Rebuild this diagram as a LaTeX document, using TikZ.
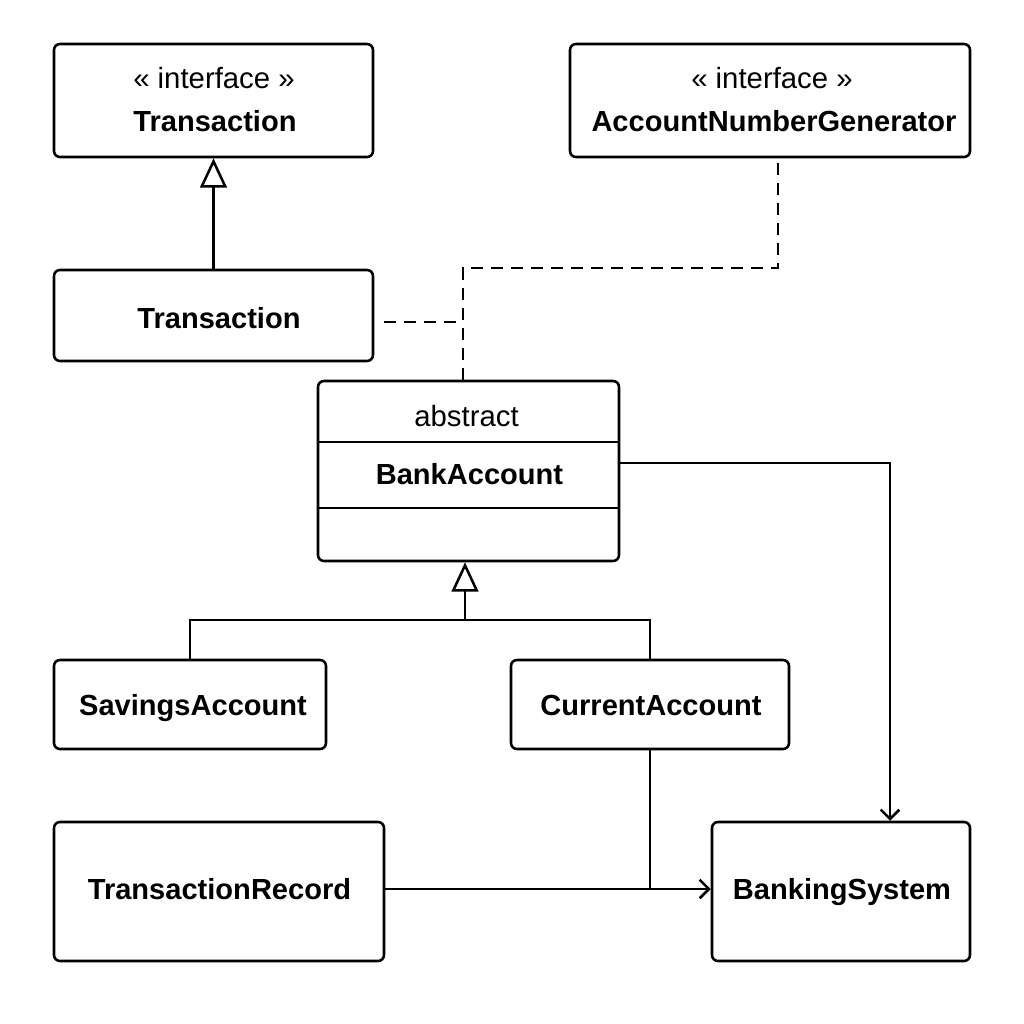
\documentclass[tikz,border=0pt]{standalone}
\usepackage{fontspec}
\setmainfont{Liberation Sans}
\usetikzlibrary{arrows.meta,calc}
\begin{document}
\begin{tikzpicture}[x=0.75pt,y=-0.75pt,
  box/.style={draw,line width=1.9pt,rounded corners=4.5pt,inner sep=0pt},
  txt/.style={inner sep=0pt,anchor=base,font=\fontsize{22}{26}\selectfont},
  btxt/.style={inner sep=0pt,anchor=base,font=\fontsize{21.8}{26}\selectfont\bfseries},
  line/.style={line width=1.9pt},
  dep/.style={line width=1.9pt,dash pattern=on 9pt off 6pt},
  inh/.style={line width=1.9pt,-{Triangle[open,length=22pt,width=20pt,fill=white]}},
  arr/.style={line width=1.9pt,-{Straight Barb[length=7pt,width=14pt]}}]
\useasboundingbox (0,0) rectangle (1024,1024);
% boxes
\node[box,minimum width=239.25pt,minimum height=84.75pt] (tint) at (213.5,100.5) {};
\node[box,minimum width=300pt,minimum height=84.75pt] (ang) at (770,100.5) {};
\node[box,minimum width=239.25pt,minimum height=68.25pt] (tcls) at (213.5,315.5) {};
\node[box,minimum width=225.75pt,minimum height=135pt] (ba) at (468.5,471) {};
\node[box,minimum width=204pt,minimum height=66.75pt] (sa) at (190,704.5) {};
\node[box,minimum width=208.5pt,minimum height=66.75pt] (ca) at (650,704.5) {};
\node[box,minimum width=247.5pt,minimum height=104.25pt] (tr) at (219,891.5) {};
\node[box,minimum width=193.5pt,minimum height=104.25pt] (bs) at (841,891.5) {};
% dividers
\draw[line width=1.9pt] (ba.west |- 0,442) -- (ba.east |- 0,442);
\draw[line width=1.9pt] (ba.west |- 0,508) -- (ba.east |- 0,508);
% texts
\node[txt] (tintS) at (214,89) {« interface »};
\node[btxt] (tintN) at (215,132) {Transaction};
\node[txt] (angS) at (772,89) {« interface »};
\node[btxt] (angN) at (774,132) {AccountNumberGenerator};
\node[btxt] (tclsN) at (219,328) {Transaction};
\node[txt] (baS) at (466.5,426) {abstract};
\node[btxt] (baN) at (469.5,484) {BankAccount};
\node[btxt] (saN) at (193,715) {SavingsAccount};
\node[btxt] (caN) at (651,715) {CurrentAccount};
\node[btxt] (trN) at (219.5,899) {TransactionRecord};
\node[btxt] (bsN) at (842,899) {BankingSystem};
% connectors
\draw[inh] (tcls.north) -- (tint.south);
\coordinate (j1) at (463,268);
\coordinate (j2) at (778,157);
\coordinate (j3) at (463,322);
\draw[dep] (ba.north -| j1) -- (j1) -| (j2);
\draw[dep] ($(tcls.east |- j3)+(10,0)$) -- (j3);
\coordinate (jb) at (465,620);
\draw[line] (sa.north -| 190,0) |- (jb) -| (ca.north);
\draw[inh] (jb) -- (ba.south -| jb);
\coordinate (jr) at (890,463);
\draw[arr] (ba.east |- jr) -| (bs.north -| jr);
\coordinate (jt) at (650,889);
\draw[arr] (tr.east |- jt) -- (bs.west |- jt);
\draw[line] (ca.south) -- (jt);
\end{tikzpicture}
\end{document}
